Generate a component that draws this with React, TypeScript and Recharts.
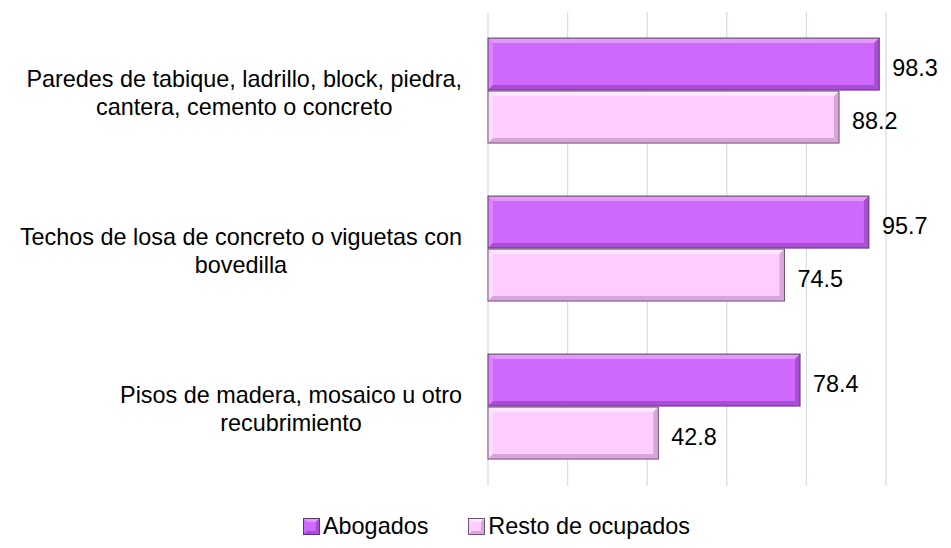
import { Bar, BarChart, CartesianGrid, LabelList, XAxis, YAxis } from 'recharts';

const categories = [
  'Paredes de tabique, ladrillo, block, piedra, cantera, cemento o concreto',
  'Techos de losa de concreto o viguetas con bovedilla',
  'Pisos de madera, mosaico u otro recubrimiento',
];

const categoryLines = [
  ['Paredes de tabique, ladrillo, block, piedra,', 'cantera, cemento o concreto'],
  ['Techos de losa de concreto o viguetas con', 'bovedilla'],
  ['Pisos de madera, mosaico u otro', 'recubrimiento'],
];

const abogados = [98.3, 95.7, 78.4];
const resto = [88.2, 74.5, 42.8];

const xTicks = [0, 20, 40, 60, 80, 100];

const data = categories.map((name, i) => ({
  name,
  abogados: abogados[i],
  resto: resto[i],
}));

const FONT = '"Liberation Sans", Arial, sans-serif';
const FONT_SIZE = 23.4;

let ctx: CanvasRenderingContext2D | null = null;
function textWidth(t: string): number {
  if (!ctx) {
    ctx = document.createElement('canvas').getContext('2d');
  }
  if (!ctx) return t.length * 10;
  ctx.font = `${FONT_SIZE}px "Liberation Sans", Arial, sans-serif`;
  return ctx.measureText(t).width;
}

type Bevel = { base: string; light: string; dark: string; edge: string };

const purple: Bevel = { base: '#CF68FF', light: '#E596FF', dark: '#A64FD0', edge: '#5E3B6C' };
const pink: Bevel = { base: '#FFCCFF', light: '#FFE6FF', dark: '#D6A6D8', edge: '#6E5670' };

function bevelShape(c: Bevel) {
  return (props: any) => {
    const { x, y, width, height } = props;
    if (!width || width <= 0) return <g />;
    const b = 5;
    const r = x + width;
    const bt = y + height;
    return (
      <g>
        <rect x={x} y={y} width={width} height={height} fill={c.base} />
        <polygon points={`${x},${y} ${r},${y} ${r - b},${y + b} ${x + b},${y + b}`} fill={c.light} />
        <polygon points={`${x},${y} ${x + b},${y + b} ${x + b},${bt - b} ${x},${bt}`} fill={c.light} opacity={0.6} />
        <polygon points={`${x},${bt} ${r},${bt} ${r - b},${bt - b} ${x + b},${bt - b}`} fill={c.dark} />
        <polygon points={`${r},${y} ${r},${bt} ${r - b},${bt - b} ${r - b},${y + b}`} fill={c.dark} />
        <rect x={x} y={y} width={width} height={height} fill="none" stroke={c.edge} strokeWidth={1} />
      </g>
    );
  };
}

function CategoryTick(props: any) {
  const { x, y, payload } = props;
  const idx = categories.indexOf(payload.value);
  const lines = categoryLines[idx] ?? [payload.value];
  const right = x - 18;
  const w = textWidth(lines[0]);
  const cx = right - w / 2;
  return (
    <g>
      {lines.map((line, i) => (
        <text
          key={i}
          x={cx}
          y={y - 4 + i * 28}
          textAnchor="middle"
          fontFamily={FONT}
          fontSize={FONT_SIZE}
          fill="#000"
        >
          {line}
        </text>
      ))}
    </g>
  );
}

function ValueLabel(props: any) {
  const { x, y, width, height, value } = props;
  return (
    <text
      x={x + width + 13}
      y={y + height / 2 + 12}
      fontFamily={FONT}
      fontSize={FONT_SIZE}
      fill="#000"
    >
      {Number(value).toFixed(1)}
    </text>
  );
}

function LegendSquare({ c }: { c: Bevel }) {
  return (
    <svg width={17} height={17} style={{ marginRight: 3 }}>
      <rect x={0.5} y={0.5} width={16} height={16} fill={c.base} stroke={c.edge} />
      <polygon points="1,1 16,1 13,4 4,4" fill={c.light} />
      <polygon points="1,16 16,16 13,13 4,13" fill={c.dark} />
      <polygon points="16,1 16,16 13,13 13,4" fill={c.dark} />
    </svg>
  );
}

export default function App() {
  return (
    <div
      style={{
        position: 'absolute',
        left: 0,
        top: 0,
        width: 951,
        height: 548,
        background: '#fff',
      }}
    >
      <BarChart
        width={951}
        height={548}
        data={data}
        layout="vertical"
        barCategoryGap="16.5%"
        barGap={1}
        margin={{ top: 12, right: 65, bottom: 62, left: 0 }}
      >
        <CartesianGrid horizontal={false} stroke="#D9DEE5" strokeWidth={1.3} />
        <XAxis type="number" domain={[0, 100]} ticks={xTicks} hide />
        <YAxis
          type="category"
          dataKey="name"
          width={488}
          axisLine={false}
          tickLine={false}
          tick={<CategoryTick />}
          interval={0}
        />
        <Bar dataKey="abogados" isAnimationActive={false} shape={bevelShape(purple)}>
          <LabelList dataKey="abogados" content={<ValueLabel />} />
        </Bar>
        <Bar dataKey="resto" isAnimationActive={false} shape={bevelShape(pink)}>
          <LabelList dataKey="resto" content={<ValueLabel />} />
        </Bar>
      </BarChart>
      <div
        style={{
          position: 'absolute',
          left: 303,
          top: 512,
          display: 'flex',
          alignItems: 'center',
          fontFamily: FONT,
          fontSize: FONT_SIZE,
          color: '#000',
          lineHeight: '28px',
          whiteSpace: 'nowrap',
        }}
      >
        <LegendSquare c={purple} />
        <span style={{ marginRight: 40 }}>Abogados</span>
        <LegendSquare c={pink} />
        <span>Resto de ocupados</span>
      </div>
    </div>
  );
}
